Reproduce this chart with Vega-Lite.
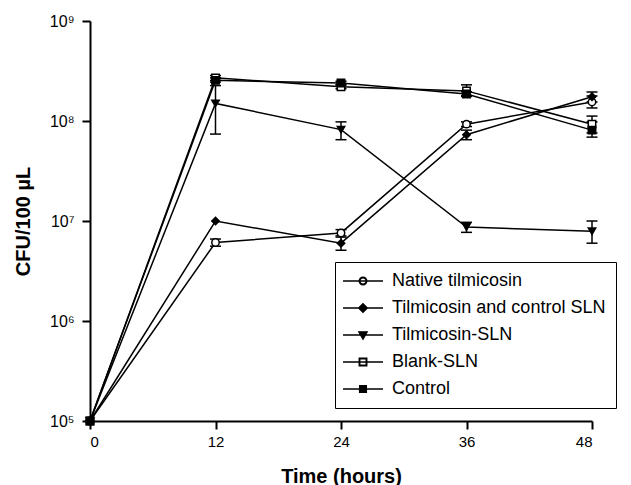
{
  "$schema": "https://vega.github.io/schema/vega-lite/v6.json",
  "autosize": {"type": "none"},
  "width": 502,
  "height": 400,
  "padding": {"left": 90, "top": 21, "right": 39, "bottom": 64},
  "background": "white",
  "config": {
    "font": "Liberation Sans",
    "view": {"stroke": null},
    "axis": {
      "domainColor": "black", "domainWidth": 2, "tickColor": "black", "tickWidth": 2, "tickSize": 8,
      "labelColor": "black", "labelFont": "Liberation Sans", "labelFontSize": 15, "grid": false,
      "titleFont": "Liberation Sans", "titleFontWeight": "bold", "titleColor": "black", "titleFontSize": 20
    },
    "legend": {
      "labelFont": "Liberation Sans", "labelFontSize": 18, "labelColor": "black", "labelLimit": 400
    }
  },
  "data": {"values": [
    {"t": 0, "s": "Native tilmicosin", "v": 100000},
    {"t": 12, "s": "Native tilmicosin", "v": 6100000, "lo": 5600000, "hi": 6600000},
    {"t": 24, "s": "Native tilmicosin", "v": 7600000, "lo": 7100000, "hi": 8200000},
    {"t": 36, "s": "Native tilmicosin", "v": 93000000, "lo": 88000000, "hi": 98000000},
    {"t": 48, "s": "Native tilmicosin", "v": 155000000, "lo": 135000000, "hi": 178000000},
    {"t": 0, "s": "Tilmicosin and control SLN", "v": 100000},
    {"t": 12, "s": "Tilmicosin and control SLN", "v": 10000000},
    {"t": 24, "s": "Tilmicosin and control SLN", "v": 6000000, "lo": 5100000, "hi": 6900000},
    {"t": 36, "s": "Tilmicosin and control SLN", "v": 73000000, "lo": 65000000, "hi": 81000000},
    {"t": 48, "s": "Tilmicosin and control SLN", "v": 175000000, "lo": 155000000, "hi": 195000000},
    {"t": 0, "s": "Tilmicosin-SLN", "v": 100000},
    {"t": 12, "s": "Tilmicosin-SLN", "v": 150000000, "lo": 74000000, "hi": 226000000},
    {"t": 24, "s": "Tilmicosin-SLN", "v": 82000000, "lo": 65000000, "hi": 98000000},
    {"t": 36, "s": "Tilmicosin-SLN", "v": 8700000, "lo": 7700000, "hi": 9700000},
    {"t": 48, "s": "Tilmicosin-SLN", "v": 7900000, "lo": 6000000, "hi": 10000000},
    {"t": 0, "s": "Blank-SLN", "v": 100000},
    {"t": 12, "s": "Blank-SLN", "v": 270000000, "lo": 255000000, "hi": 285000000},
    {"t": 24, "s": "Blank-SLN", "v": 220000000, "lo": 210000000, "hi": 230000000},
    {"t": 36, "s": "Blank-SLN", "v": 200000000, "lo": 180000000, "hi": 230000000},
    {"t": 48, "s": "Blank-SLN", "v": 93000000, "lo": 76000000, "hi": 112000000},
    {"t": 0, "s": "Control", "v": 100000},
    {"t": 12, "s": "Control", "v": 255000000, "lo": 245000000, "hi": 270000000},
    {"t": 24, "s": "Control", "v": 240000000, "lo": 230000000, "hi": 250000000},
    {"t": 36, "s": "Control", "v": 186000000, "lo": 176000000, "hi": 196000000},
    {"t": 48, "s": "Control", "v": 81000000, "lo": 69000000, "hi": 98000000}
  ]},
  "encoding": {
    "x": {"field": "t", "type": "quantitative",
      "scale": {"domain": [0, 48], "nice": false, "zero": false},
      "axis": {"values": [0, 12, 24, 36, 48], "title": "Time (hours)", "titlePadding": 17, "labelPadding": 5}},
    "y": {"field": "v", "type": "quantitative",
      "scale": {"type": "log", "domain": [100000, 1000000000], "nice": false},
      "axis": {"values": [100000, 1000000, 10000000, 100000000, 1000000000],
        "title": "CFU/100 µL", "titlePadding": 16, "labelPadding": 8, "labelFontSize": 16,
        "labelExpr": "round(log(datum.value)/LN10) == 5 ? '10⁵' : round(log(datum.value)/LN10) == 6 ? '10⁶' : round(log(datum.value)/LN10) == 7 ? '10⁷' : round(log(datum.value)/LN10) == 8 ? '10⁸' : '10⁹'"}}
  },
  "resolve": {"scale": {"shape": "independent"}, "legend": {"shape": "independent"}},
  "layer": [
    {
      "transform": [{"filter": "isValid(datum.lo)"}],
      "mark": {"type": "rule", "color": "black", "strokeWidth": 1.5},
      "encoding": {"y": {"field": "lo", "type": "quantitative"}, "y2": {"field": "hi"}}
    },
    {
      "transform": [{"filter": "isValid(datum.lo)"}],
      "mark": {"type": "tick", "orient": "horizontal", "color": "black", "thickness": 1.5, "size": 11, "opacity": 1},
      "encoding": {"y": {"field": "lo", "type": "quantitative"}}
    },
    {
      "transform": [{"filter": "isValid(datum.hi)"}],
      "mark": {"type": "tick", "orient": "horizontal", "color": "black", "thickness": 1.5, "size": 11, "opacity": 1},
      "encoding": {"y": {"field": "hi", "type": "quantitative"}}
    },
    {
      "mark": {"type": "line", "color": "black", "strokeWidth": 1.5},
      "encoding": {"detail": {"field": "s", "type": "nominal"}}
    },
    {
      "mark": {"type": "point", "stroke": "black", "strokeWidth": 1.5, "opacity": 1, "filled": false},
      "encoding": {
        "shape": {"field": "s", "type": "nominal",
          "scale": {"domain": ["Native tilmicosin", "Tilmicosin and control SLN", "Tilmicosin-SLN", "Blank-SLN", "Control"],
                    "range": ["circle", "diamond", "triangle-down", "square", "square"]},
          "legend": null},
        "fill": {"field": "s", "type": "nominal",
          "scale": {"domain": ["Native tilmicosin", "Tilmicosin and control SLN", "Tilmicosin-SLN", "Blank-SLN", "Control"],
                    "range": ["white", "black", "black", "white", "black"]},
          "legend": null},
        "size": {"value": 55}
      }
    },
    {
      "mark": {"type": "point", "stroke": "black", "strokeWidth": 1.3, "opacity": 0, "filled": false},
      "encoding": {
        "shape": {"field": "s", "type": "nominal",
          "scale": {"domain": ["Native tilmicosin", "Tilmicosin and control SLN", "Tilmicosin-SLN", "Blank-SLN", "Control"],
                    "range": [
                      "M-5,0H5M-0.95,0A0.95,0.95 0 1,1 0.95,0A0.95,0.95 0 1,1 -0.95,0ZM-0.8,0A0.8,0.8 0 1,0 0.8,0A0.8,0.8 0 1,0 -0.8,0Z",
                      "M-5,0H5M0,-1.1L1.1,0L0,1.1L-1.1,0Z",
                      "M-5,0H5M-1.05,-0.8L1.05,-0.8L0,1.05Z",
                      "M-5,0H5M-0.95,-0.95H0.95V0.95H-0.95ZM-0.8,-0.8V0.8H0.8V-0.8Z",
                      "M-5,0H5M-0.85,-0.85H0.85V0.85H-0.85Z"]},
          "legend": {
            "title": null, "orient": "none", "legendX": 245, "legendY": 241,
            "padding": 10, "rowPadding": 9, "symbolSize": 64, "symbolOffset": 9, "labelOffset": 20,
            "symbolOpacity": 1, "symbolStrokeWidth": 1.3,
            "strokeColor": "black", "fillColor": "white"
          }},
        "fill": {"field": "s", "type": "nominal",
          "scale": {"domain": ["Native tilmicosin", "Tilmicosin and control SLN", "Tilmicosin-SLN", "Blank-SLN", "Control"],
                    "range": ["white", "black", "black", "white", "black"]},
          "legend": null},
        "size": {"value": 55}
      }
    }
  ]
}
